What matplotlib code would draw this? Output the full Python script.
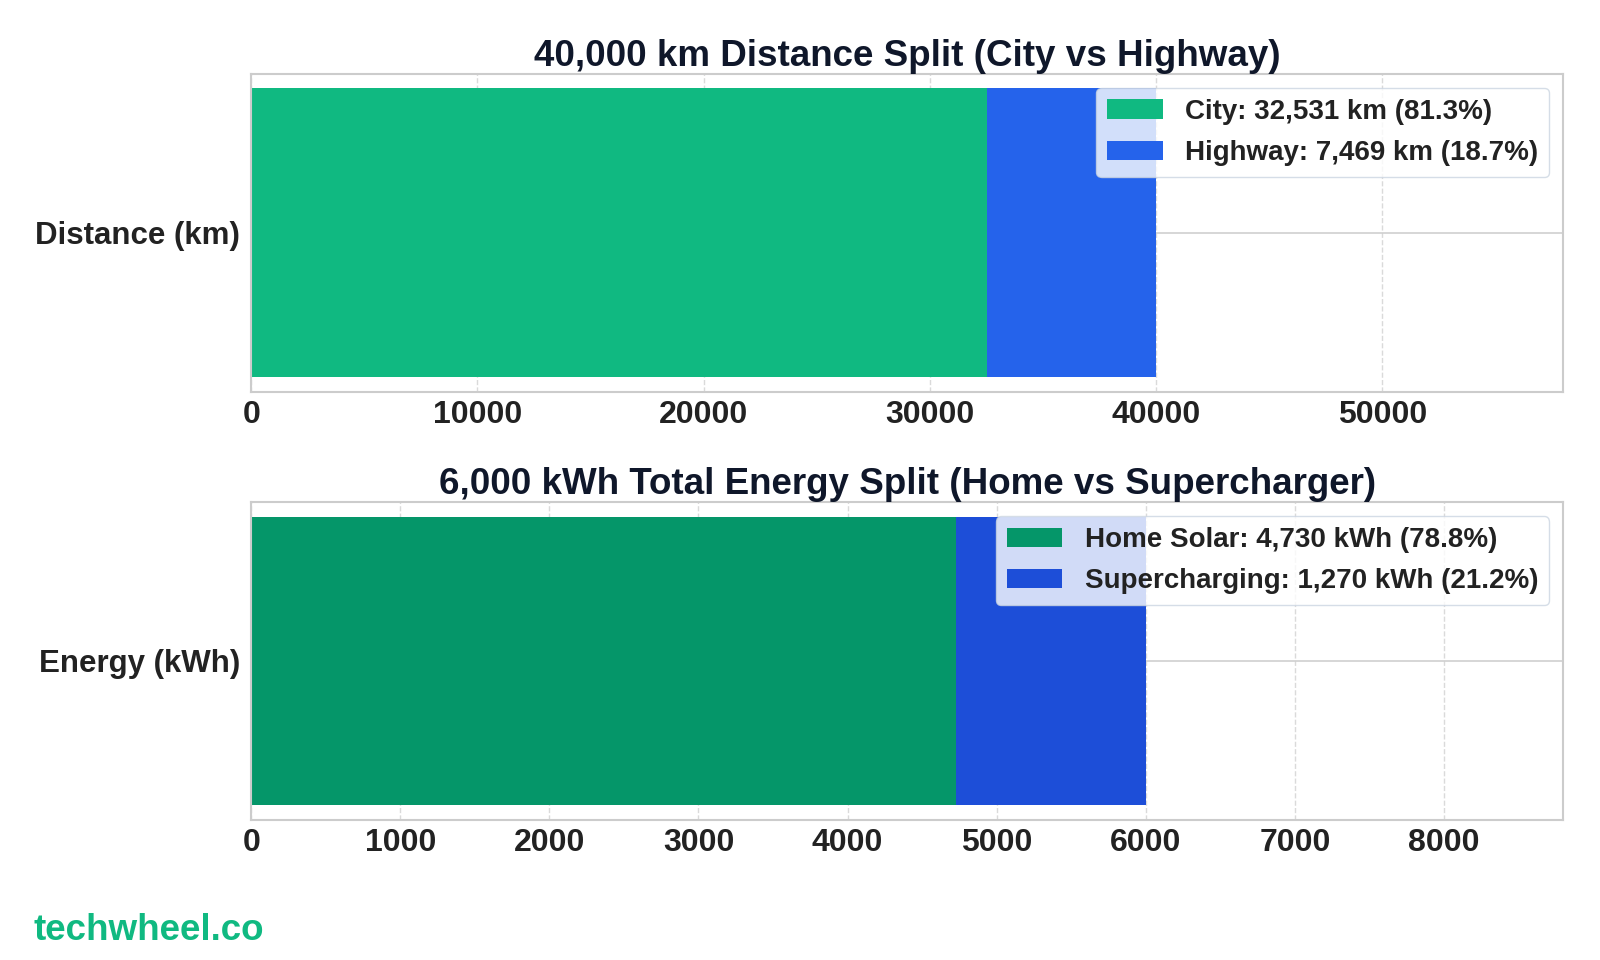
import matplotlib
matplotlib.use('Agg')
import matplotlib.pyplot as plt
import seaborn as sns

# distance split
dist_labels = ['City', 'Highway']
dist_values = [32531, 7469]
dist_total = 40000

# energy split
energy_labels = ['Home Solar', 'Supercharging']
energy_values = [4730, 1270]
energy_total = 6000

sns.set_style('whitegrid')
plt.rcParams['font.family'] = ['Liberation Sans', 'DejaVu Sans']
plt.rcParams['font.weight'] = 'bold'

fig = plt.figure(figsize=(16, 9.6), dpi=100)
ax1 = fig.add_axes([0.157, 0.592, 0.82, 0.331])
ax2 = fig.add_axes([0.157, 0.146, 0.82, 0.331])


def split_bar(ax, cat, labels, values, unit, total, colors, xmax, title):
    left = 0
    for lab, v, c in zip(labels, values, colors):
        ax.barh([cat], [v], left=left, height=0.5, color=c, linewidth=0,
                label=f'{lab}: {v:,} {unit} ({v / total * 100:.1f}%)', zorder=2)
        left += v
    ax.set_xlim(0, xmax)
    ax.set_title(title, fontsize=26.5, fontweight='bold', color='#0f172a', pad=6)
    ax.tick_params(axis='x', labelsize=23, colors='#222222', length=0, pad=6)
    ax.tick_params(axis='y', labelsize=22.5, colors='#222222', length=0, pad=8)
    for t in ax.get_xticklabels() + ax.get_yticklabels():
        t.set_fontweight('bold')
    ax.grid(axis='x', linestyle='--', color='#dadada', linewidth=1.0, zorder=0)
    ax.grid(axis='y', linestyle='-', color='#d0d0d0', linewidth=1.2, zorder=0)
    ax.set_axisbelow(True)
    for s in ax.spines.values():
        s.set_color('#cccccc')
        s.set_linewidth(1.5)
    leg = ax.legend(loc='upper right', fontsize=20, framealpha=0.8,
                    edgecolor='#cbd5e1', fancybox=True, labelspacing=0.55)
    for t in leg.get_texts():
        t.set_color('#222222')
        t.set_fontweight('bold')


split_bar(ax1, 'Distance (km)', dist_labels, dist_values, 'km', dist_total,
          ['#10b981', '#2563eb'], 58000,
          '40,000 km Distance Split (City vs Highway)')
split_bar(ax2, 'Energy (kWh)', energy_labels, energy_values, 'kWh', energy_total,
          ['#059669', '#1d4ed8'], 8800,
          '6,000 kWh Total Energy Split (Home vs Supercharger)')

fig.text(0.021, 0.021, 'techwheel.co', fontsize=26.5, fontweight='bold', color='#10b981')

fig.savefig('out.png', dpi=100)
